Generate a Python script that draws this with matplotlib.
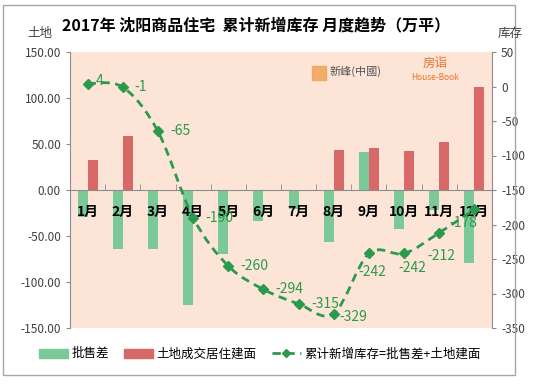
import matplotlib.pyplot as plt
from matplotlib.path import Path
from matplotlib.patches import PathPatch, Rectangle, Patch
from matplotlib.lines import Line2D
import numpy as np

plt.rcParams['font.family'] = ['Noto Sans CJK SC', 'DejaVu Sans']
plt.rcParams['axes.unicode_minus'] = False

# 数据
months = ['1月', '2月', '3月', '4月', '5月', '6月', '7月', '8月', '9月', '10月', '11月', '12月']
pishoucha = [-29, -64, -64, -125, -70, -34, -21, -57, 41, -42, -22, -79]   # 批售差
tudi = [33, 59, 0, 0, 0, 0, 0, 43, 46, 42, 52, 112]                        # 土地成交居住建面
kucun = [4, -1, -65, -190, -260, -294, -315, -329, -242, -242, -212, -178]  # 累计新增库存
# 数据标签偏移(像素)
label_dx = [8, 12, 12, 12, 12, 12, 13, 6, -11, -6, -12, -25]
label_dy = [3, 0, 0, 0, 0, 0, 0, -3, -19, -15, -23, -14]

c_green = '#7BC998'
c_red = '#D96868'
c_line = '#2B9A4C'
c_bg = '#FCE5D7'

fig = plt.figure(figsize=(5.48, 3.85), dpi=100, facecolor='white')
ax = fig.add_axes([70 / 548, 1 - 328 / 385, 422 / 548, 276 / 385])
ax.set_facecolor(c_bg)
ax.set_axisbelow(False)

x = np.arange(len(months))
w = 0.285
ax.bar(x - w / 2, pishoucha, w, color=c_green, zorder=2)
ax.bar(x + w / 2, tudi, w, color=c_red, zorder=2)

ax.set_xlim(-0.5, len(months) - 0.5)
ax.set_ylim(-150, 150)
ax.set_yticks(np.arange(-150, 151, 50))
ax.set_yticklabels(['%.2f' % v for v in np.arange(-150, 151, 50)], fontsize=8.5, color='#404040')

# 分类轴放在0处
for s in ['top', 'right']:
    ax.spines[s].set_visible(False)
ax.spines['bottom'].set_position(('data', 0))
ax.spines['bottom'].set_color('#8C8C8C')
ax.spines['left'].set_color('#8C8C8C')
ax.set_xticks(x)
ax.set_xticklabels(months, fontsize=10, fontweight='bold', color='black')
ax.tick_params(axis='x', length=0, pad=11)
ax.set_xticks(np.arange(-0.5, len(months), 1), minor=True)
ax.tick_params(axis='x', which='minor', length=4, direction='in', color='#8C8C8C')
ax.tick_params(axis='y', length=3, color='#8C8C8C')

# 右轴: 库存
ax2 = ax.twinx()
ax2.set_ylim(-350, 50)
ax2.set_yticks(np.arange(-350, 51, 50))
ax2.set_yticklabels([str(v) for v in np.arange(-350, 51, 50)], fontsize=8.5, color='#404040')
ax2.tick_params(axis='y', length=3, color='#8C8C8C')
for s in ['top', 'left', 'bottom']:
    ax2.spines[s].set_visible(False)
ax2.spines['right'].set_color('#8C8C8C')

# 平滑曲线 (Catmull-Rom -> Bezier)
pts = list(zip(x, kucun))
verts = [pts[0]]
codes = [Path.MOVETO]
n = len(pts)
for i in range(n - 1):
    p0 = np.array(pts[max(i - 1, 0)], float)
    p1 = np.array(pts[i], float)
    p2 = np.array(pts[i + 1], float)
    p3 = np.array(pts[min(i + 2, n - 1)], float)
    c1 = p1 + (p2 - p0) / 6
    c2 = p2 - (p3 - p1) / 6
    verts += [tuple(c1), tuple(c2), tuple(p2)]
    codes += [Path.CURVE4] * 3
ax2.add_patch(PathPatch(Path(verts, codes), fill=False, edgecolor=c_line, lw=2,
                        linestyle=(0, (3, 2)), zorder=3))
ax2.plot(x, kucun, linestyle='none', marker='D', markersize=5, color=c_line, zorder=4)

for xi, yi, dx, dy in zip(x, kucun, label_dx, label_dy):
    ax2.annotate(str(yi), (xi, yi), xytext=(dx, dy), textcoords='offset pixels',
                 ha='left', va='center', fontsize=10, color=c_line, zorder=5)

# 标题和轴名
fig.text(256 / 548, 1 - 25 / 385, '2017年 沈阳商品住宅  累计新增库存 月度趋势（万平）',
         ha='center', va='center', fontsize=11.5, fontweight='bold', color='black')
fig.text(40 / 548, 1 - 33 / 385, '土地', ha='center', va='center', fontsize=9, color='#404040')
fig.text(510 / 548, 1 - 33 / 385, '库存', ha='center', va='center', fontsize=9, color='#404040')

# 水印
fig.patches.append(Rectangle((312 / 548, 1 - 80 / 385), 14 / 548, 14 / 385,
                             transform=fig.transFigure, color='#F0A050', alpha=0.8))
fig.text(330 / 548, 1 - 71 / 385, '新峰(中國)', ha='left', va='center', fontsize=8, color='#555555')
fig.text(435 / 548, 1 - 63 / 385, '房诣', ha='center', va='center', fontsize=9, color='#E8732A')
fig.text(435 / 548, 1 - 77 / 385, 'House-Book', ha='center', va='center', fontsize=6, color='#E8732A')

# 图例
handles = [Patch(color=c_green), Patch(color=c_red),
           Line2D([], [], color=c_line, lw=2, linestyle=(0, (3, 2)), marker='D', markersize=4)]
fig.legend(handles, ['批售差', '土地成交居住建面', '累计新增库存=批售差+土地建面'],
           loc='center', bbox_to_anchor=(260 / 548, 1 - 354 / 385), ncol=3, frameon=False,
           fontsize=9, handlelength=2.3, handleheight=0.7, columnspacing=1.2, handletextpad=0.3)

# 外框
fig.patches.append(Rectangle((3 / 548, 1 - 375 / 385), 512 / 548, 370 / 385,
                             transform=fig.transFigure, fill=False, edgecolor='#A6A6A6', lw=1))

fig.savefig('out.png', dpi=100, facecolor='white')
